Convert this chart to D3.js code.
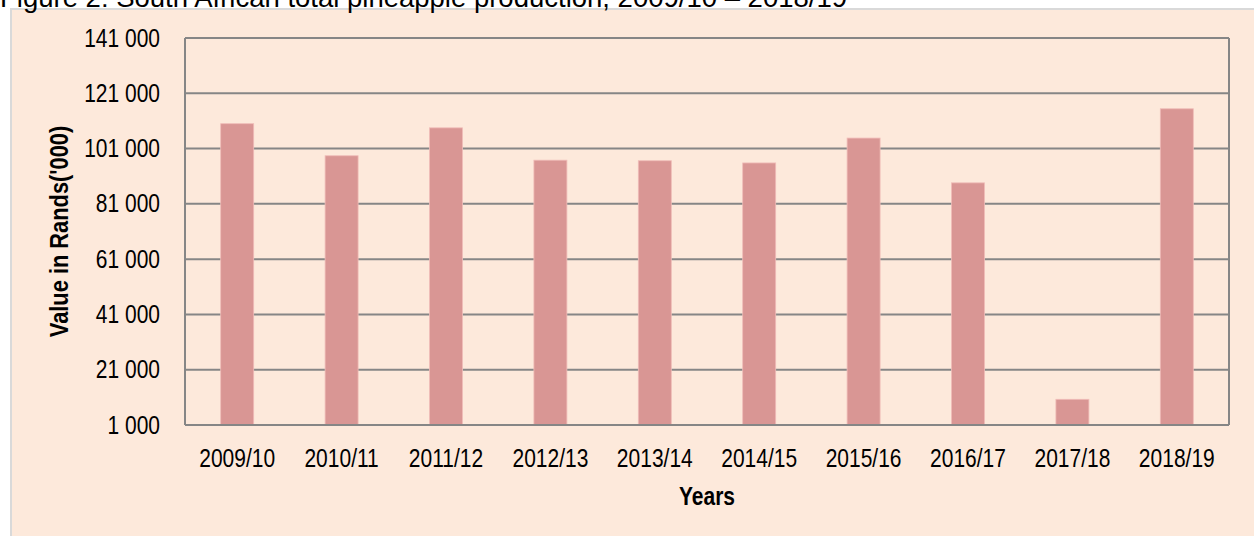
<!DOCTYPE html>
<html>
<head>
<meta charset="utf-8">
<script src="https://cdn.jsdelivr.net/npm/d3@7"></script>
<style>
  html, body { margin: 0; padding: 0; background: #ffffff; }
  svg { display: block; }
  text { font-family: "Liberation Sans", Arial, sans-serif; }
</style>
</head>
<body>
<svg id="chart" width="1254" height="536"></svg>
<script>
const years = ["2009/10", "2010/11", "2011/12", "2012/13", "2013/14", "2014/15", "2015/16", "2016/17", "2017/18", "2018/19"];
const values = [110000, 98400, 108500, 96800, 96600, 95800, 104800, 88600, 10300, 115400];
const yTicks = [1000, 21000, 41000, 61000, 81000, 101000, 121000, 141000];
const titleText = "Figure 2: South African total pineapple production, 2009/10 \u2013 2018/19";
const xLabel = "Years";
const yLabel = "Value in Rands('000)";

const svg = d3.select("#chart");
const width = 1254;
const height = 536;
const margin = { top: 38, right: 25, bottom: 111, left: 185 };
const innerW = width - margin.left - margin.right;
const innerH = height - margin.top - margin.bottom;

const gridColor = "#868686";
const barColor = "#d99694";
// the source chart uses a narrow face; squeeze regular text to match
const squeeze = 0.84;

function condense(sel) {
  sel.each(function () {
    const t = d3.select(this);
    const x0 = +(t.attr("x") || 0);
    t.attr("x", x0 / squeeze);
    const prev = t.attr("transform") || "";
    t.attr("transform", `${prev} scale(${squeeze},1)`.trim());
  });
}

// panel background
svg.append("rect")
  .attr("x", 11)
  .attr("y", 9)
  .attr("width", width)
  .attr("height", height)
  .attr("fill", "#fde9db")
  .attr("stroke", "#d9d9d9")
  .attr("stroke-width", 2);

// title, cut off at top like the source
svg.append("text")
  .attr("x", 0)
  .attr("y", 7)
  .style("font-size", "27.5px")
  .style("fill", "#000")
  .text(titleText);

const g = svg.append("g")
  .attr("transform", `translate(${margin.left}, ${margin.top})`);

const x = d3.scaleBand()
  .domain(years)
  .range([0, innerW])
  .paddingInner(0.684)
  .paddingOuter(0.342);

const y = d3.scaleLinear()
  .domain([1000, 141000])
  .range([innerH, 0]);

const fmt = d3.formatLocale({ decimal: ".", thousands: " ", grouping: [3], currency: ["", ""] }).format(",d");

// horizontal gridlines
g.append("g")
  .selectAll("line")
  .data(yTicks)
  .enter()
  .append("line")
  .attr("x1", 0)
  .attr("x2", innerW)
  .attr("y1", (d) => y(d))
  .attr("y2", (d) => y(d))
  .attr("stroke", gridColor)
  .attr("stroke-width", 2);

// left and right frame
g.append("line")
  .attr("x1", 0).attr("x2", 0)
  .attr("y1", 0).attr("y2", innerH)
  .attr("stroke", gridColor)
  .attr("stroke-width", 2);

g.append("line")
  .attr("x1", innerW).attr("x2", innerW)
  .attr("y1", 0).attr("y2", innerH)
  .attr("stroke", gridColor)
  .attr("stroke-width", 2);

// bars
g.append("g")
  .selectAll("rect")
  .data(years.map((yr, i) => ({ year: yr, value: values[i] })))
  .enter()
  .append("rect")
  .attr("x", (d) => x(d.year))
  .attr("y", (d) => y(d.value))
  .attr("width", x.bandwidth())
  .attr("height", (d) => y(1000) - y(d.value))
  .attr("fill", barColor)
  .attr("stroke", "#f0bcb8")
  .attr("stroke-width", 0.8);

// bottom axis line over bars
g.append("line")
  .attr("x1", 0).attr("x2", innerW)
  .attr("y1", innerH).attr("y2", innerH)
  .attr("stroke", gridColor)
  .attr("stroke-width", 2);

// y tick labels
const yAxis = g.append("g")
  .call(d3.axisLeft(y).tickValues(yTicks).tickFormat(fmt).tickSize(0).tickPadding(25));
yAxis.select(".domain").remove();
yAxis.selectAll("text")
  .style("font-size", "25px")
  .style("fill", "#000")
  .call(condense);
yAxis.attr("font-family", null);

// x tick labels
const xAxis = g.append("g")
  .attr("transform", `translate(0, ${innerH})`)
  .call(d3.axisBottom(x).tickSize(0).tickPadding(24));
xAxis.select(".domain").remove();
xAxis.selectAll("text")
  .style("font-size", "25px")
  .style("fill", "#000")
  .call(condense);
xAxis.attr("font-family", null);

// axis titles
g.append("text")
  .attr("x", innerW / 2)
  .attr("y", innerH + 80)
  .attr("text-anchor", "middle")
  .style("font-size", "25px")
  .style("font-weight", "bold")
  .style("fill", "#000")
  .text(xLabel)
  .call(condense);

g.append("text")
  .attr("transform", "rotate(-90)")
  .attr("x", -innerH / 2)
  .attr("y", -117)
  .attr("text-anchor", "middle")
  .style("font-size", "26px")
  .style("font-weight", "bold")
  .style("fill", "#000")
  .text(yLabel)
  .call(condense);
</script>
</body>
</html>
